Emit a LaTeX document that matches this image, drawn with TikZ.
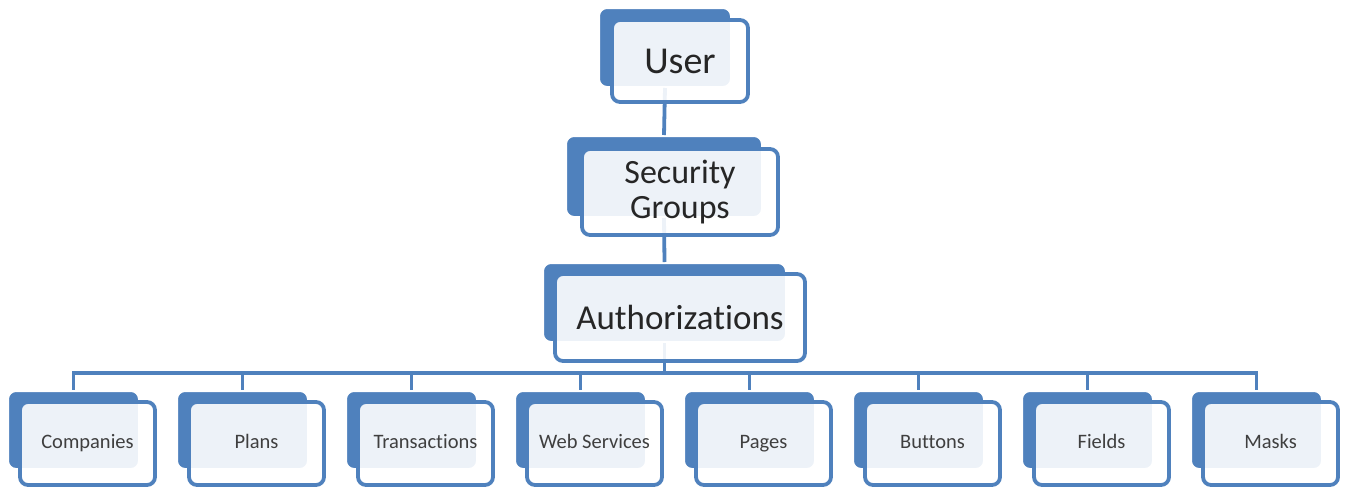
\documentclass[tikz,border=0pt]{standalone}
\usepackage{fontspec}
\setmainfont[Ligatures=NoCommon]{Carlito}
\definecolor{accblue}{HTML}{4F81BD}
\definecolor{toptext}{HTML}{262626}
\definecolor{bottext}{HTML}{3F3F3F}
\tikzset{
  backbox/.style={rectangle, rounded corners=8pt, fill=accblue, draw=white, line width=2pt, inner sep=0pt},
  frontbox/.style={rectangle, rounded corners=8pt, fill=white, fill opacity=0.9, text opacity=1, draw=accblue, draw opacity=1, line width=3.8pt, inner sep=0pt, align=center},
  link/.style={draw=accblue, line width=3.8pt},
  bigtext/.style={text=toptext, font=\fontsize{35}{36}\selectfont},
  smalltext/.style={text=bottext, font=\fontsize{20.5}{22}\selectfont, text height=14pt, text depth=4pt},
}
\begin{document}
\begin{tikzpicture}[x=1pt,y=-1pt]
\useasboundingbox (0,0) rectangle (1349,488);
% back boxes
\node[backbox, minimum width=132pt, minimum height=79pt] (b-user) at (665,47.5) {};
\node[backbox, minimum width=196pt, minimum height=81pt] (b-sec) at (664,176.5) {};
\node[backbox, minimum width=243pt, minimum height=79pt] (b-auth) at (664.5,302.5) {};
\foreach \i in {0,...,7}{
  \node[backbox, minimum width=131pt, minimum height=78pt] (b-\i) at ({73.5+169*\i},430) {};
}
\coordinate (bus) at (0,373);
% connectors (behind front boxes)
\draw[link] (b-user.south) -- (b-sec.north);
\draw[link] (b-sec.south) -- (b-auth.north);
\foreach \i in {0,...,7}{
  \draw[link] (b-auth.south) -- (b-auth.south |- bus) -| (b-\i.north);
}
% front boxes
\node[frontbox, bigtext, font=\fontsize{38}{40}\selectfont, minimum width=136pt, minimum height=82pt] (user) at (680,61) {User};
\node[frontbox, bigtext, font=\fontsize{34}{35}\selectfont, minimum width=196pt, minimum height=86pt] (sec) at (680,192) {Security\\Groups};
\node[frontbox, bigtext, minimum width=250pt, minimum height=87pt] (auth) at (680,317.5) {Authorizations};
\foreach \i/\t in {0/Companies,1/Plans,2/Transactions,3/Web Services,4/Pages,5/Buttons,6/Fields,7/Masks}{
  \node[frontbox, smalltext, minimum width=135pt, minimum height=83pt] (f-\i) at ({87.5+169*\i},443.5) {\t};
}
\end{tikzpicture}
\end{document}
